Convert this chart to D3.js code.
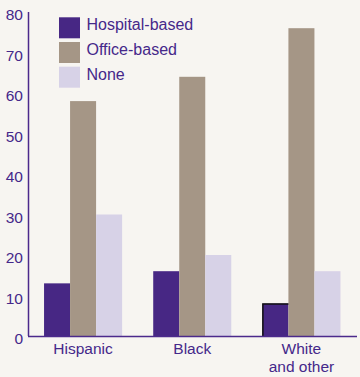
<!DOCTYPE html>
<html>

<head>
    <title>Bar Chart</title>
    <script src="https://cdn.jsdelivr.net/npm/d3@7"></script>
    <style>
        body { margin: 0; background: #f7f5f1; }
        text { font-family: "Liberation Sans", Arial, sans-serif; fill: #45288a; }
    </style>
</head>

<body>
    <svg width="360" height="377" id="mainsvg"></svg>
    <script>
        const groups = ['Hispanic', 'Black', 'White\nand other'];
        const seriesNames = ['Hospital-based', 'Office-based', 'None'];
        const hospital = [13, 16, 8];
        const office = [58, 64, 76];
        const none = [30, 20, 16];
        const yTicks = [0, 10, 20, 30, 40, 50, 60, 70, 80];
        const colors = ['#472784', '#a59686', '#d7d2e7'];

        const svg = d3.select('svg');
        const width = +svg.attr('width');
        const height = +svg.attr('height');

        svg.append('rect').attr('width', width).attr('height', height).attr('fill', '#f7f5f1');

        const series = [hospital, office, none];
        const data = groups.map((g, i) => ({
            group: g,
            values: seriesNames.map((s, j) => ({ key: s, value: series[j][i], idx: j }))
        }));

        const x = d3.scaleBand().domain(groups).range([28, 356.5])
            .paddingInner(0.285).paddingOuter(0.147);
        const xs = d3.scaleBand().domain(seriesNames).range([0, x.bandwidth()]);
        const y = d3.scaleLinear().domain([0, 80]).range([336, 12]);

        const g = svg.append('g').selectAll('g').data(data).join('g')
            .attr('transform', d => `translate(${x(d.group)},0)`);

        g.selectAll('rect').data(d => d.values).join('rect')
            .attr('x', d => xs(d.key))
            .attr('y', d => y(d.value))
            .attr('width', xs.bandwidth())
            .attr('height', d => y(0) - y(d.value))
            .attr('fill', d => colors[d.idx]);

        // thin dark edge on the last hospital bar, as in the original
        const last = data[2].values[0];
        svg.append('path')
            .attr('d', `M${x(data[2].group) + 0.5},${y(0)} V${y(last.value) + 0.5} H${x(data[2].group) + xs.bandwidth()}`)
            .attr('fill', 'none').attr('stroke', '#111').attr('stroke-width', 1.5);

        // axes
        svg.append('line').attr('x1', 28.5).attr('x2', 28.5).attr('y1', y(80)).attr('y2', y(0))
            .attr('stroke', '#4b2a8c').attr('stroke-width', 1.5);
        svg.append('line').attr('x1', 28).attr('x2', 357).attr('y1', y(0) + 0.5).attr('y2', y(0) + 0.5)
            .attr('stroke', '#4b2a8c').attr('stroke-width', 1.5);

        svg.append('g').selectAll('text').data(yTicks).join('text')
            .attr('x', 23).attr('y', d => y(d) + 8)
            .attr('text-anchor', 'end')
            .attr('font-size', 15.5)
            .text(d => d);

        svg.append('g').selectAll('text').data(groups).join('text')
            .attr('x', d => x(d) + x.bandwidth() / 2)
            .attr('y', 354)
            .attr('text-anchor', 'middle')
            .attr('font-size', 15.5)
            .selectAll('tspan').data(d => d.split('\n')).join('tspan')
            .attr('x', function () { return d3.select(this.parentNode).attr('x'); })
            .attr('dy', (d, i) => i === 0 ? 0 : 17.5)
            .text(d => d);

        // legend
        const legend = svg.append('g').selectAll('g').data(seriesNames).join('g')
            .attr('transform', (d, i) => `translate(59,${17.3 + i * 24.7})`);
        legend.append('rect').attr('width', 21).attr('height', 21)
            .attr('fill', (d, i) => colors[i]);
        legend.append('text').attr('x', 27.5).attr('y', 12.8)
            .attr('font-size', 16)
            .text(d => d);
    </script>
</body>

</html>
